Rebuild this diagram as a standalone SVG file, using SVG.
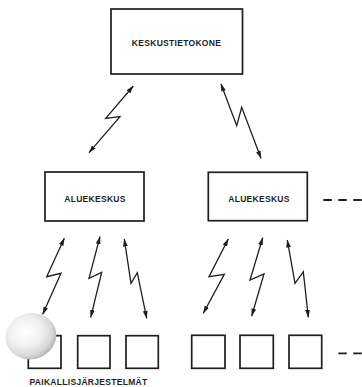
<svg xmlns="http://www.w3.org/2000/svg" width="362" height="387" viewBox="0 0 362 387">
<style>
.box{fill:#fff;stroke:#1e1e1e;stroke-width:1.7}
.lbl{font-family:"Liberation Sans",Arial,sans-serif;font-weight:bold;font-size:8.5px;letter-spacing:0.3px;fill:#1e1e1e;text-anchor:middle}
.bolt{fill:none;stroke:#1e1e1e;stroke-width:1.3;stroke-linejoin:miter;marker-start:url(#ah);marker-end:url(#ah)}
.dash{stroke:#1e1e1e;stroke-width:1.8;stroke-dasharray:8.5 6.5}
</style>
<defs>
<marker id="ah" markerUnits="userSpaceOnUse" viewBox="0 0 8 6" refX="7.5" refY="3" markerWidth="8" markerHeight="6" orient="auto-start-reverse">
<path d="M0,0.6 L8,3 L0,5.4 Z" fill="#1e1e1e"/>
</marker>
<radialGradient id="pearl" cx="0.42" cy="0.38" r="0.62">
<stop offset="0" stop-color="#ffffff"/>
<stop offset="0.5" stop-color="#f1f1f1"/>
<stop offset="0.85" stop-color="#d6d6d6"/>
<stop offset="1" stop-color="#b9b9b9"/>
</radialGradient>
</defs>
<rect width="362" height="387" fill="#fff"/>
<g id="central">
<rect class="box" x="111" y="9" width="131.5" height="65"/>
<text class="lbl" x="176.5" y="45.8">KESKUSTIETOKONE</text>
</g>
<g id="regional-left">
<rect class="box" x="45" y="172" width="99" height="49"/>
<text class="lbl" x="95" y="202.3">ALUEKESKUS</text>
</g>
<g id="regional-right">
<rect class="box" x="208.3" y="172.3" width="99" height="48.4"/>
<text class="lbl" x="259" y="202.3">ALUEKESKUS</text>
</g>
<g id="local-1"><rect class="box" x="28.3" y="335.7" width="32.7" height="32.6"/></g>
<g id="local-2"><rect class="box" x="77.7" y="335.7" width="32.3" height="32.6"/></g>
<g id="local-3"><rect class="box" x="126" y="335.7" width="32.3" height="32.6"/></g>
<g id="local-4"><rect class="box" x="191.7" y="335.3" width="33.3" height="33"/></g>
<g id="local-5"><rect class="box" x="240" y="335.3" width="33.3" height="33"/></g>
<g id="local-6"><rect class="box" x="289" y="335.3" width="32.7" height="33"/></g>
<g id="local-label">
<text class="lbl" x="88.5" y="385.4">PAIKALLISJÄRJESTELMÄT</text>
</g>
<g id="connectors">
<polyline class="bolt" points="133.3,86 105.7,118.3 120,116.7 89,152.7"/>
<polyline class="bolt" points="221,84 236.7,125.7 241.7,107.3 261,158.3"/>
<polyline class="bolt" points="64.3,238.3 46.7,276.7 61,273.3 42.7,314.3"/>
<polyline class="bolt" points="100,236.7 89,278.3 101.7,272.3 90.7,317.3"/>
<polyline class="bolt" points="124.3,239 131,283.3 137.3,272.7 146.7,318.3"/>
<polyline class="bolt" points="228.3,239 209,276.7 224.3,274.3 203.3,313.3"/>
<polyline class="bolt" points="262.7,237.7 250,280 264,274 251.7,316"/>
<polyline class="bolt" points="287.3,240 295,283.3 303.3,271.7 308.3,317.3"/>
<line class="dash" x1="323.3" y1="200" x2="362" y2="200"/>
<line class="dash" x1="338.3" y1="353.3" x2="362" y2="353.3"/>
</g>
<ellipse cx="31" cy="336.2" rx="25.5" ry="23" fill="url(#pearl)" transform="rotate(-15 31 336.2)"/>
</svg>
